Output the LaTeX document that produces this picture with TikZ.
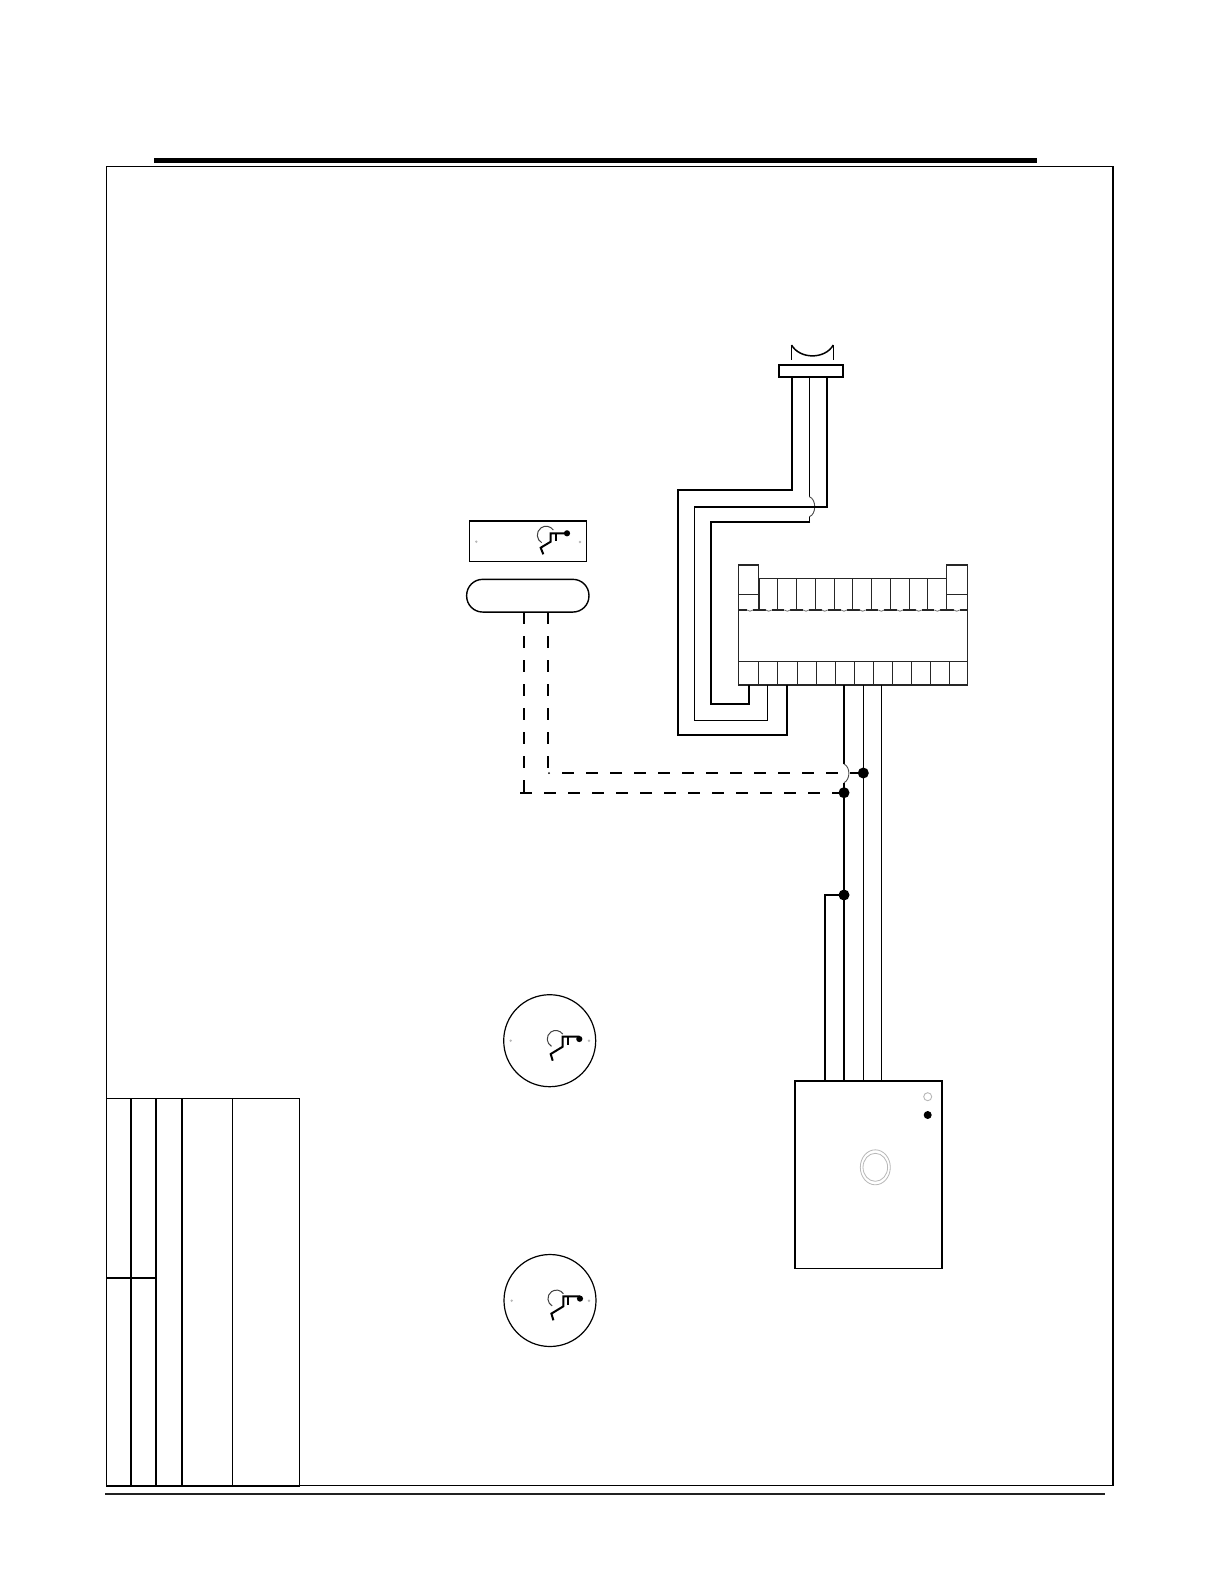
\documentclass[tikz,border=0pt]{standalone}
\usetikzlibrary{shapes.misc}
\definecolor{softgray}{gray}{0.72}
\definecolor{rulegray}{gray}{0.13}
\tikzset{
  x=1pt,y=-1pt,
  thickwire/.style={line width=2.1pt,line join=miter},
  midwire/.style={line width=1.6pt,line join=miter},
  thinwire/.style={line width=1.2pt,line join=miter},
  hop/.style={line width=0.9pt,draw=black!70},
  dashwire/.style={line width=2pt,dash pattern=on 12pt off 12pt},
  joint/.style={circle,fill=black,inner sep=0pt,minimum size=11pt,outer sep=0pt},
  box/.style={draw,rectangle,inner sep=0pt,outer sep=0pt},
  disc/.style={draw,circle,line width=1.2pt,inner sep=0pt,outer sep=0pt,minimum size=92pt},
  pin/.style={circle,fill=softgray,inner sep=0pt,minimum size=2.6pt},
  cell/.style={line width=1.1pt,draw=black!85},
  tbl/.style={line width=2pt},
  mansym/.pic={
    \draw[line width=1pt,draw=black!75] (-13.7,-3.3) arc[start angle=-35,end angle=-240,radius=8.8];
    \draw[line width=2pt,line join=miter] (-23.7,21) -- (-26.3,14.4) -- (-16.3,8.4) -- (-16.3,0) -- (0,0);
    \draw[line width=2pt] (-11,0) -- (-11,7.4);
    \fill (0,0) circle[radius=3.1];
  },
  mansymb/.pic={
    \draw[line width=1pt,draw=black!75] (-16.6,-2.6) arc[start angle=-35,end angle=-240,radius=8.5];
    \draw[line width=2pt,line join=miter] (-26.6,24) -- (-28.6,17.3) -- (-16.6,10) -- (-16.6,0) -- (0,0);
    \draw[line width=2pt] (-11.6,0) -- (-11.6,8.3);
    \fill (0,2.3) circle[radius=3.1];
  }
}
\begin{document}
\begin{tikzpicture}
\useasboundingbox (0,0) rectangle (1224,1584);
\fill[white] (0,0) rectangle (1224,1584);

% page frame and rules
\draw[line width=4.5pt] (154,160.7) -- (1037.3,160.7);
\draw[line width=1.5pt] (1113,166.7) -- (106.7,166.7) -- (106.7,1485.5);
\draw[line width=2.4pt] (1113,166) -- (1113,1485.5);
\draw[line width=1.3pt] (299,1485.3) -- (1113,1485.3);
\draw[line width=2.2pt,draw=rulegray] (105,1493.7) -- (1105,1493.7);

% table
\draw[line width=1.3pt] (106.7,1098.3) -- (299.3,1098.3) -- (299.3,1486);
\draw[line width=2.4pt] (106,1486) -- (299.8,1486);
\draw[tbl] (130.7,1098.3) -- (130.7,1486);
\draw[line width=2.3pt] (156,1098.3) -- (156,1486);
\draw[line width=2.3pt] (182,1098.3) -- (182,1486);
\draw[line width=1.2pt] (232.3,1098.3) -- (232.3,1486);
\draw[line width=2pt] (106.7,1277.7) -- (156,1277.7);

% top connector
\node[box,line width=2.2pt,minimum width=64.6pt,minimum height=12.6pt] (conn) at (811,371) {};
\draw[line width=1.5pt] (791.5,345) .. controls (800,359.5) and (825,359.5) .. (833.3,345);
\draw[line width=0.9pt] (791.5,345) -- (791.5,360);
\draw[line width=0.9pt] (833.3,345) -- (833.3,360);

% terminal block
\coordinate (tL) at (738.3,610);
\coordinate (tR) at (967.3,610);
\draw[cell] (738.3,610) -- (738.3,565) -- (758.7,565) -- (758.7,578.3) -- (946.3,578.3) -- (946.3,565) -- (967.3,565) -- (967.3,610);
\draw[cell] (738.3,594.3) -- (759.3,594.3);
\draw[cell] (946.3,594.3) -- (967.3,594.3);
\draw[cell] (738.3,610) rectangle (967.3,685);
\draw[cell] (738.3,661.3) -- (967.3,661.3);
\foreach \x in {759,777.3,796.3,815.3,834.3,852.3,871.3,890.3,909.3,927.3,946.3}
  \draw[cell] (\x,578.3) -- (\x,610);
\foreach \x in {758.3,777.3,797.3,816.3,835.3,854.3,873.3,892.3,911.3,930.3,949.3}
  \draw[cell] (\x,661.3) -- (\x,685);
\foreach \x in {750,768.7,787.3,806,824.7,844,862.7,881.3,900,918.7,937.3,956.7}{
  \draw[white,line width=1.6pt] (\x-3,610) -- (\x+3,610);
  \draw[line width=0.8pt,draw=black!55] (\x-3,610) .. controls (\x-1.5,611.6) and (\x+1.5,611.6) .. (\x+3,610);
}
\coordinate (tb1) at (787,685);
\coordinate (tb2) at (767.3,685);
\coordinate (tb3) at (749,685);
\coordinate (tb4) at (844,685);
\coordinate (tb5) at (863.3,685);
\coordinate (tb6) at (881.3,685);

% cable from top connector to terminal block
\draw[midwire] (791.7,377) -- (791.7,490);
\draw[thickwire] (792.5,490) -- (677.7,490) -- (677.7,735.3) -- (787.6,735.3);
\draw[thinwire] (787,735.3) -- (tb1);
\draw[thinwire] (809.3,377) -- (809.3,496.7);
\draw[hop] (809.3,496.7) .. controls (816.5,499) and (816.5,514.5) .. (809.3,516.7);
\draw[midwire] (809.3,516.7) -- (809.3,521.7);
\draw[thickwire] (810,521.7) -- (711,521.7) -- (711,703.7) -- (749,703.7) -- (tb3);
\draw[thickwire] (827,377) -- (827,506.7) -- (694.3,506.7);
\draw[thinwire] (694.3,506.7) -- (694.3,720.3) -- (767.3,720.3) -- (tb2);

% sensor plate and contact
\node[box,line width=1.4pt,minimum width=117pt,minimum height=40.6pt] (plate) at (527.8,541) {};
\draw[line width=2pt] (plate.north west) -- (plate.north east);
\node[pin] (pa) at (476.3,541.7) {};
\node[pin] (pb) at (580,542) {};
\pic at (567,533.3) {mansym};
\node[draw,rectangle,rounded corners=16pt,line width=1.4pt,inner sep=0pt,outer sep=0pt,minimum width=122.3pt,minimum height=32.7pt] (oval) at (527.8,595.7) {};
\coordinate (oL) at (524,612);
\coordinate (oR) at (548,612);

% dashed pair
\coordinate (bendL) at (524,792.7);
\coordinate (bendR) at (550,773);
\coordinate (stub) at (520,792.7);
\node[joint] (j2) at (844,792.7) {};
\node[joint] (j1) at (863.3,773) {};
\node[joint] (j3) at (844,895) {};
\draw[dashwire] (oL) -- (bendL);
\draw[dashwire] (oR) -- (548,769);
\fill (549,773) circle[radius=1];
\draw[dashwire] (stub) -- (j2.center);
\draw[dashwire,dash phase=12pt] (bendR) -- (838,773);

% power supply
\node[box,line width=1.5pt,minimum width=147.3pt,minimum height=187.6pt] (psu) at (868.7,1174.5) {};
\draw[line width=2.2pt] (psu.south west) -- (psu.north west) -- (psu.north east) -- (psu.south east);
\node[draw=softgray,circle,line width=0.9pt,inner sep=0pt,minimum size=8pt] (led) at (927.7,1096.7) {};
\node[circle,fill=black,inner sep=0pt,minimum size=8pt] (ledb) at (927.7,1115) {};
\draw[draw=softgray,line width=0.8pt] (875.3,1167.3) ellipse[x radius=15,y radius=17.5];
\draw[draw=softgray,line width=0.8pt] (875.3,1167.3) ellipse[x radius=12.3,y radius=14];

% wires to power supply
\draw[thickwire] (tb4) -- (844,764);
\draw[hop] (844,764) .. controls (850.5,767) and (850.5,779.5) .. (844,782.7);
\draw[thickwire] (844,782.7) -- (j2.center) -- (j3.center) -- (844,1080.7);
\draw[thickwire] (j3.center) -- (825,895) -- (825,1080.7);
\draw[thinwire] (tb5) -- (j1.center) -- (863.3,1080.7);
\draw[thinwire] (tb6) -- (881.3,1080.7);
\draw[thinwire] (849.5,773) -- (j1.center);

% round sensors
\node[disc] (d1) at (549.7,1040.7) {};
\node[pin] (d1a) at (510.7,1040.7) {};
\node[pin] (d1b) at (589,1040.7) {};
\pic at (579.3,1036.7) {mansymb};
\node[disc] (d2) at (550,1300.5) {};
\node[pin] (d2a) at (511.7,1300.7) {};
\node[pin] (d2b) at (589,1300.7) {};
\pic at (580,1296.3) {mansymb};
\end{tikzpicture}
\end{document}
